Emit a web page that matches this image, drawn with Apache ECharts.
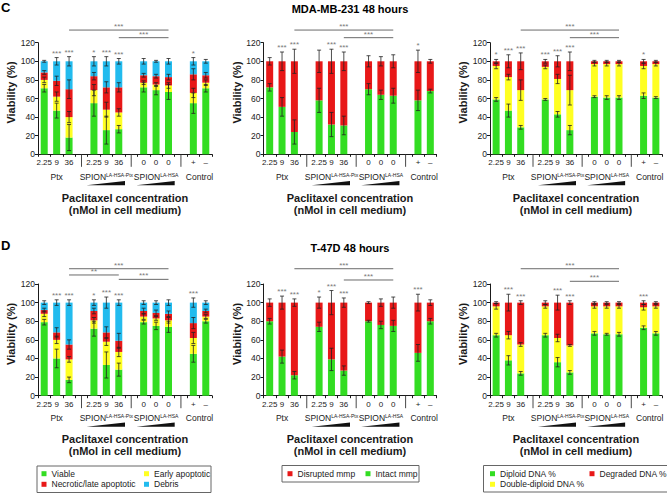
<!DOCTYPE html>
<html><head><meta charset="utf-8">
<script src="https://cdn.jsdelivr.net/npm/echarts@6/dist/echarts.min.js"></script>
<style>html,body{margin:0;padding:0;background:#fff}#c{width:667px;height:493px}</style>
</head><body><div id="c"></div>
<script>
// ---------- categories ----------
const doseLabels = ['2.25','9','36','2.25','9','36','0','0','0','+','\u2013'];
const groupNames = ['Ptx','SPION','SPION','Control'];
const groupSup = ['','LA-HSA-Ptx','LA-HSA',''];
const groupSizes = [3,3,3,2];
const groupWedge = [false,true,true,false];

// ---------- Panel C (MDA-MB-231) ----------
const cViable   = [71,47,18,55,26,27,72,69,67,55,71];
const cEarly    = [9,15,22,14,22,18,5,6,7,11,6];
const cNecrotic = [8,17,30,15,24,27,8,9,9,20,8];
const cDebris   = [12,21,30,16,28,28,15,16,17,14,15];
const cViableErr   = [4,8,14,14,15,4,5,5,8,11,4];
const cEarlyErr    = [3,5,6,6,8,4,2,2,3,5,3];
const cNecroticErr = [2,5,10,4,6,5,2,2,3,6,3];
const cDebrisErr   = [1,4,5,5,5,3,3,1,3,4,2];
const cLeftStars = ['','***','***','*','***','***','','','','*',''];
const cLeftBrackets = [[2,8,133.6],[5,8,125.4]];
const cLeftBracketLabels = ['***','***'];

const cIntact    = [72,51,24,58,32,31,70,64,63,58,68];
const cDisrupted = [28,49,76,42,68,69,30,36,37,42,32];
const cIntactErr    = [4,10,13,13,13,10,6,5,8,11,2];
const cDisruptedErr = [4,10,13,12,13,10,6,5,7,12,2];
const cMidStars = ['','***','***','','***','***','','','','*',''];
const cMidBrackets = [[2,8,133.6],[5,8,125.4]];
const cMidBracketLabels = ['***','***'];

const cDiploid  = [59,47,29,59,43,26,62,61,61,63,61];
const cDouble   = [36,36,40,35,38,43,35,36,36,32,36];
const cDegraded = [5,17,31,6,19,31,3,3,3,5,3];
const cDiploidErr  = [2,7,2,1,3,5,1,2,2,3,1];
const cDoubleErr   = [3,3,11,2,5,16,2,2,2,3,2];
const cDegradedErr = [2,7,9,2,6,10,1,1,1,2,1];
const cRightStars = ['*','***','***','***','***','***','','','','*',''];
const cRightBrackets = [[2,8,133.6],[5,8,125.4]];
const cRightBracketLabels = ['***','***'];

// ---------- Panel D (T-47D) ----------
const dViable   = [79,40,17,72,33,28,79,75,74,45,80];
const dEarly    = [9,20,22,9,25,19,6,8,7,17,5];
const dNecrotic = [4,8,16,10,10,12,6,6,7,16,6];
const dDebris   = [8,32,45,9,32,41,9,11,12,22,9];
const dViableErr   = [3,10,3,8,14,7,2,4,6,9,2];
const dEarlyErr    = [3,4,3,3,4,5,3,2,3,6,2];
const dNecroticErr = [2,5,5,3,6,8,3,3,3,6,2];
const dDebrisErr   = [2,3,3,3,6,3,2,2,3,5,2];
const dLeftStars = ['','***','***','*','***','***','','','','***',''];
const dLeftBrackets = [[2,8,136.4],[2,5,129.7],[5,8,125.0]];
const dLeftBracketLabels = ['***','**','***'];

const dIntact    = [80,42,22,74,39,27,80,76,75,46,80];
const dDisrupted = [20,58,78,26,61,73,20,24,25,54,20];
const dIntactErr    = [3,7,4,5,12,5,1,4,6,9,3];
const dDisruptedErr = [4,7,4,6,13,5,1,4,6,9,3];
const dMidStars = ['','***','***','*','***','***','','','','***',''];
const dMidBrackets = [[2,8,136.4],[5,8,124.3]];
const dMidBracketLabels = ['***','***'];

const dDiploid  = [65,38,24,65,36,25,67,66,66,73,67];
const dDouble   = [31,27,31,31,26,29,29,30,30,22,29];
const dDegraded = [4,35,45,4,38,46,4,4,4,5,4];
const dDiploidErr  = [2,5,2,2,5,2,2,1,2,2,2];
const dDoubleErr   = [3,4,2,2,4,1,2,2,2,3,2];
const dDegradedErr = [1,9,2,2,8,2,1,1,1,2,1];
const dRightStars = ['','***','***','','***','***','','','','***',''];
const dRightBrackets = [[2,8,136.4],[5,8,122.9]];
const dRightBracketLabels = ['***','***'];

// ---------- styling ----------
const G='#33dd22', Y='#ffff22', R='#e81818', B='#22bbee';
const FONT='"Liberation Sans", Arial, Helvetica, sans-serif';
const INK='#1a1a1a', STAR='#7a7a7a';

function slotOf(i){let k=i,s=0;for(let g=0;g<groupSizes.length;g++){if(k<groupSizes[g])return s+k;s+=groupSizes[g]+1;k-=groupSizes[g];}return s;}
const nSlots = groupSizes.reduce((a,b)=>a+b,0)+groupSizes.length-1;
function toSlots(arr,blank){const out=new Array(nSlots).fill(blank);arr.forEach((v,i)=>{out[slotOf(i)]=v;});return out;}
const categories = toSlots(doseLabels,'');

const panels = [
 {grid:{left:38,top:42.7,width:174,height:111.6},
  segs:[['Viable',cViable,cViableErr,G],['Early apoptotic',cEarly,cEarlyErr,Y],['Necrotic/late apoptotic',cNecrotic,cNecroticErr,R],['Debris',cDebris,cDebrisErr,B]],
  stars:cLeftStars,br:cLeftBrackets,brl:cLeftBracketLabels},
 {grid:{left:263.5,top:42.7,width:173,height:111.6},
  segs:[['Intact mmp',cIntact,cIntactErr,G],['Disrupted mmp',cDisrupted,cDisruptedErr,R]],
  stars:cMidStars,br:cMidBrackets,brl:cMidBracketLabels},
 {grid:{left:490,top:42.7,width:172,height:111.6},
  segs:[['Diploid DNA %',cDiploid,cDiploidErr,G],['Double-diploid DNA %',cDouble,cDoubleErr,Y],['Degraded DNA %',cDegraded,cDegradedErr,R]],
  stars:cRightStars,br:cRightBrackets,brl:cRightBracketLabels},
 {grid:{left:38,top:284,width:174,height:111.7},
  segs:[['Viable',dViable,dViableErr,G],['Early apoptotic',dEarly,dEarlyErr,Y],['Necrotic/late apoptotic',dNecrotic,dNecroticErr,R],['Debris',dDebris,dDebrisErr,B]],
  stars:dLeftStars,br:dLeftBrackets,brl:dLeftBracketLabels},
 {grid:{left:263.5,top:284,width:173,height:111.7},
  segs:[['Intact mmp',dIntact,dIntactErr,G],['Disrupted mmp',dDisrupted,dDisruptedErr,R]],
  stars:dMidStars,br:dMidBrackets,brl:dMidBracketLabels},
 {grid:{left:490,top:284,width:172,height:111.7},
  segs:[['Diploid DNA %',dDiploid,dDiploidErr,G],['Double-diploid DNA %',dDouble,dDoubleErr,Y],['Degraded DNA %',dDegraded,dDegradedErr,R]],
  stars:dRightStars,br:dRightBrackets,brl:dRightBracketLabels}
];

const option = {animation:false, textStyle:{fontFamily:FONT}, grid:[], xAxis:[], yAxis:[], series:[], legend:[], graphic:[]};

function errRender(params, api){
  const x=api.value(0), y=api.value(1), e=api.value(2);
  const c=api.coord([x,y]), hi=api.coord([x,y+e]), lo=api.coord([x,y-e]);
  const cw=2, st={stroke:'#222',lineWidth:0.8};
  return {type:'group',children:[
    {type:'line',shape:{x1:c[0],y1:hi[1],x2:c[0],y2:lo[1]},style:st},
    {type:'line',shape:{x1:c[0]-cw,y1:hi[1],x2:c[0]+cw,y2:hi[1]},style:st},
    {type:'line',shape:{x1:c[0]-cw,y1:lo[1],x2:c[0]+cw,y2:lo[1]},style:st}
  ]};
}

panels.forEach((p,pi)=>{
  option.grid.push(Object.assign({containLabel:false},p.grid));
  option.xAxis.push({type:'category',gridIndex:pi,data:categories,boundaryGap:true,
    axisLine:{lineStyle:{color:INK,width:1}},
    axisTick:{show:true,length:2.5,interval:0,lineStyle:{color:INK}},
    axisLabel:{interval:0,fontSize:8,color:'#222',margin:4.5,fontFamily:FONT},
    name:'Paclitaxel concentration\n(nMol in cell medium)',nameLocation:'middle',nameGap:37,
    nameTextStyle:{fontSize:11,fontWeight:'bold',color:INK,lineHeight:12.5,fontFamily:FONT}});
  option.yAxis.push({type:'value',gridIndex:pi,min:0,max:120,interval:20,
    axisLine:{show:true,lineStyle:{color:INK,width:1}},
    axisTick:{show:true,length:3,lineStyle:{color:INK}},
    splitLine:{show:false},
    axisLabel:{fontSize:8.5,color:'#222',margin:3,fontFamily:FONT},
    name:'Viability (%)',nameLocation:'middle',nameGap:21,
    nameTextStyle:{fontSize:11,fontWeight:'bold',color:INK,fontFamily:FONT,padding:[0,0,0,12]}});
  const cum=new Array(doseLabels.length).fill(0);
  const errData=[];
  let lastErr=null;
  p.segs.forEach(([name,vals,errs,color])=>{
    option.series.push({type:'bar',name,xAxisIndex:pi,yAxisIndex:pi,stack:'s'+pi,barWidth:7,
      data:toSlots(vals,'-'),itemStyle:{color},emphasis:{disabled:true},silent:true});
    vals.forEach((v,i)=>{cum[i]+=v;errData.push([slotOf(i),cum[i],errs[i]]);});
    lastErr=errs;
  });
  option.series.push({type:'custom',xAxisIndex:pi,yAxisIndex:pi,clip:false,z:5,silent:true,
    data:errData,renderItem:errRender});
  // significance stars
  const starItems=[], starText=[];
  p.stars.forEach((s,i)=>{ if(s){starItems.push([slotOf(i),cum[i]+lastErr[i]]);starText.push(s);} });
  option.series.push({type:'custom',xAxisIndex:pi,yAxisIndex:pi,clip:false,z:6,silent:true,data:starItems,
    renderItem:(params,api)=>{const c=api.coord([api.value(0),api.value(1)]);
      return {type:'text',style:{text:starText[params.dataIndex],x:c[0],y:c[1]-4.5,align:'center',verticalAlign:'middle',
        fontSize:8,fontFamily:FONT,fill:STAR}};}});
  // brackets
  const brItems=p.br.map(b=>[slotOf(b[0]),slotOf(b[1]),b[2]]);
  option.series.push({type:'custom',xAxisIndex:pi,yAxisIndex:pi,clip:false,z:6,silent:true,data:brItems,
    renderItem:(params,api)=>{const a=api.coord([api.value(0),api.value(2)]),b=api.coord([api.value(1),api.value(2)]);
      return {type:'group',children:[
        {type:'line',shape:{x1:a[0],y1:a[1],x2:b[0],y2:b[1]},style:{stroke:'#444',lineWidth:0.8}},
        {type:'text',style:{text:p.brl[params.dataIndex],x:(a[0]+b[0])/2,y:a[1]-3.5,align:'center',verticalAlign:'middle',fontSize:8,fontFamily:FONT,fill:STAR}}
      ]};}});
  // group labels + wedges
  const gItems=[]; let k=0;
  groupSizes.forEach((n,gi)=>{gItems.push([slotOf(k),slotOf(k+n-1)]);k+=n;});
  option.series.push({type:'custom',xAxisIndex:pi,yAxisIndex:pi,clip:false,z:6,silent:true,data:gItems,
    renderItem:(params,api)=>{const gi=params.dataIndex;
      const a=api.coord([api.value(0),0]),b=api.coord([api.value(1),0]);
      const bw=api.size([1,0])[0];
      const cx=(a[0]+b[0])/2, ay=a[1];
      const sup=groupSup[gi];
      const children=[{type:'text',style:{text:groupNames[gi]+(sup?'{s|'+sup+'}':''),x:cx,y:ay+22.5,align:'center',verticalAlign:'middle',
        fontSize:8.5,fontFamily:FONT,fill:'#222',rich:{s:{fontSize:5,fontFamily:FONT,fill:'#222',verticalAlign:'top',padding:[0,0,3,0]}}}}];
      if(groupWedge[gi]){const xl=a[0]-0.6*bw, xr=b[0]+0.5*bw, yb=ay+31;
        children.push({type:'polygon',shape:{points:[[xl,yb],[xr,yb],[xr,yb-4.2]]},style:{fill:'#111'}});}
      return {type:'group',children};}});
  // group separators (blank slots)
  const sepItems=[]; let s=0;
  groupSizes.forEach((n,gi)=>{s+=n; if(gi<groupSizes.length-1){sepItems.push([s,0]); s+=1;}});
  option.series.push({type:'custom',xAxisIndex:pi,yAxisIndex:pi,clip:false,z:6,silent:true,data:sepItems,
    renderItem:(params,api)=>{const c=api.coord([api.value(0),0]);
      return {type:'line',shape:{x1:c[0],y1:c[1],x2:c[0],y2:c[1]+12.5},style:{stroke:'#333',lineWidth:0.9}};}});
});

// legends
const legendPos=[['Viable',41.5,473.7],['Necrotic/late apoptotic',41.5,484.3],['Early apoptotic',144,473.7],['Debris',144,484.3],
  ['Disrupted mmp',287.5,473.7],['Intact mmp',365.5,473.7],
  ['Diploid DNA %',490,473.7],['Double-diploid DNA %',490,484.3],['Degraded DNA %',589.5,473.7]];
legendPos.forEach(([name,x,y])=>{
  option.legend.push({data:[name],left:x,top:y-5,orient:'horizontal',padding:0,itemWidth:5,itemHeight:5,icon:'rect',
    itemGap:0,selectedMode:false,textStyle:{fontSize:8.5,color:'#222',fontFamily:FONT,lineHeight:10}});
});

option.graphic=[
  {type:'rect',shape:{x:37,y:466,width:174,height:26.5},style:{fill:'none',stroke:'#666',lineWidth:1},silent:true},
  {type:'rect',shape:{x:282,y:465.5,width:137,height:16.5},style:{fill:'none',stroke:'#666',lineWidth:1},silent:true},
  {type:'rect',shape:{x:483.5,y:465.5,width:185,height:26.5},style:{fill:'none',stroke:'#666',lineWidth:1},silent:true},
  {type:'text',x:1,y:1,style:{text:'C',fontSize:13,fontWeight:'bold',fontFamily:FONT,fill:'#000',verticalAlign:'top'}},
  {type:'text',x:1,y:239,style:{text:'D',fontSize:13,fontWeight:'bold',fontFamily:FONT,fill:'#000',verticalAlign:'top'}},
  {type:'text',x:350,y:9.3,style:{text:'MDA-MB-231 48 hours',fontSize:11,fontWeight:'bold',fontFamily:FONT,fill:'#000',align:'center',verticalAlign:'middle'}},
  {type:'text',x:350,y:247.8,style:{text:'T-47D 48 hours',fontSize:11,fontWeight:'bold',fontFamily:FONT,fill:'#000',align:'center',verticalAlign:'middle'}}
];

const chart=echarts.init(document.getElementById('c'),null,{renderer:'svg'});
chart.setOption(option);
</script></body></html>
